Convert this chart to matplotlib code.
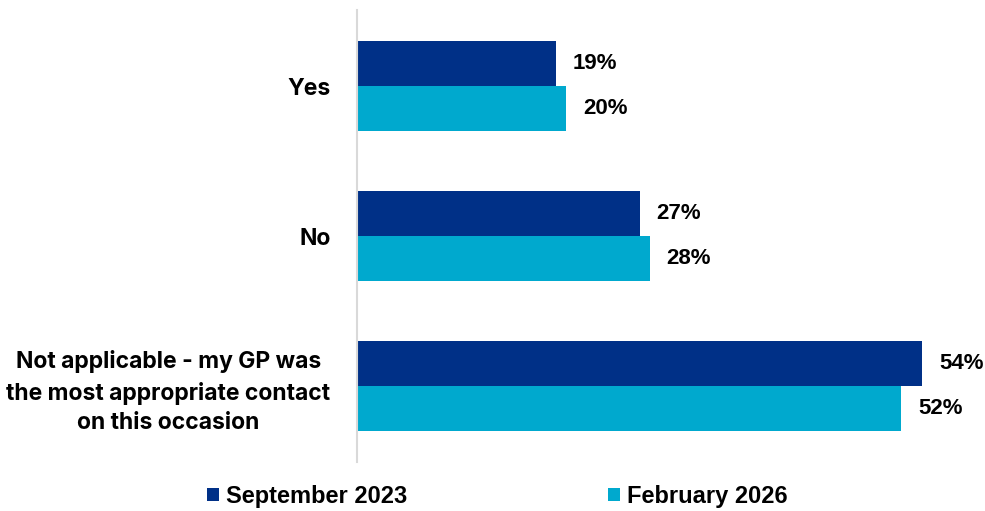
import matplotlib.pyplot as plt
import numpy as np

# survey answers and percentages for the two waves
categories = ["Yes", "No", "Not applicable - my GP was\nthe most appropriate contact\non this occasion"]
sep_2023 = [19, 27, 54]
feb_2026 = [20, 28, 52]
series_names = ["September 2023", "February 2026"]

navy = "#003087"
cyan = "#00A9CE"

fig = plt.figure(figsize=(9.85, 5.11), dpi=100)
ax = fig.add_axes([0.3624, 0.0959, 0.6376, 0.8845])

y = np.arange(len(categories))
h = 0.3
b1 = ax.barh(y - h / 2, sep_2023, height=h, color=navy, label=series_names[0])
b2 = ax.barh(y + h / 2, feb_2026, height=h, color=cyan, label=series_names[1])

# value labels to the right of each bar
for bars, vals in ((b1, sep_2023), (b2, feb_2026)):
    for bar, v in zip(bars, vals):
        ax.annotate(f"{v}%", (bar.get_width(), bar.get_y() + bar.get_height() / 2),
                    xytext=(12, 0), textcoords="offset points", va="center", ha="left",
                    fontsize=16, fontweight="bold", family="Liberation Sans")

ax.set_xlim(0, 60)
ax.set_ylim(2.507, -0.507)
ax.set_yticks(y)
ax.set_yticklabels(categories, fontsize=16.5, fontweight="bold", family="Inter",
                   linespacing=1.45, ha="right", multialignment="center")
ax.tick_params(axis="y", length=0, pad=19)
ax.set_xticks([])

for s in ["top", "right", "bottom"]:
    ax.spines[s].set_visible(False)
ax.spines["left"].set_color("#d9d9d9")
ax.spines["left"].set_linewidth(1.5)

leg = fig.legend(handles=[b1, b2], loc="center", bbox_to_anchor=(0.505, 0.029), ncol=2,
                 frameon=False, handlelength=0.5, handleheight=0.5, handletextpad=0.3,
                 columnspacing=8.5,
                 prop={"family": "Liberation Sans", "weight": "bold", "size": 17})

fig.savefig("out.png", dpi=100)
